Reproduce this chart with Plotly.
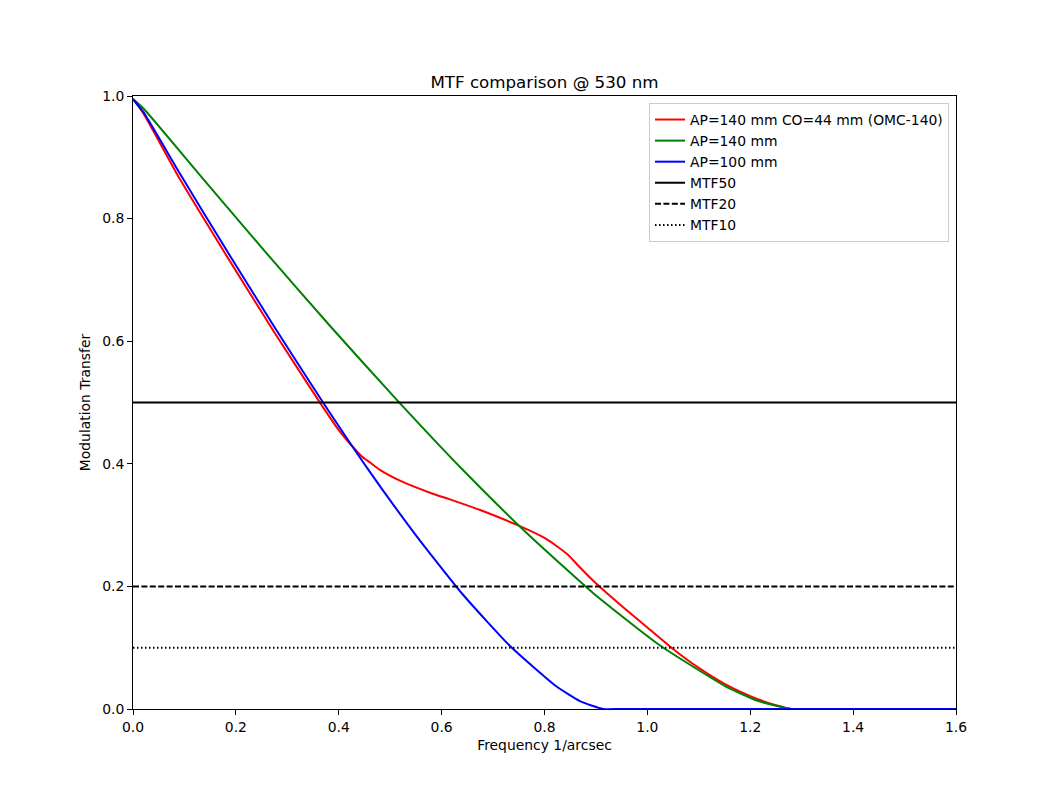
import plotly.graph_objects as go

# Frequency (1/arcsec) and modulation transfer values
red_x = [0.0, 0.02, 0.0914, 0.1829, 0.2743, 0.3657, 0.40, 0.428, 0.445, 0.461, 0.48, 0.52, 0.58,
         0.616, 0.68, 0.75, 0.8, 0.82, 0.845, 0.87, 0.9, 0.95, 1.0, 1.05, 1.1, 1.15, 1.2, 1.25,
         1.28, 1.32, 1.6]
red_y = [0.995, 0.972, 0.864, 0.738, 0.615, 0.497, 0.455, 0.427, 0.412, 0.402, 0.390, 0.372, 0.352,
         0.342, 0.323, 0.299, 0.279, 0.268, 0.252, 0.23, 0.205, 0.168, 0.133, 0.098, 0.067, 0.041,
         0.021, 0.006, 0.0, 0.0, 0.0]

green_x = [0.0, 0.02, 0.128, 0.256, 0.384, 0.512, 0.64, 0.768, 0.896, 1.024, 1.152, 1.216, 1.28, 1.32, 1.6]
green_y = [0.995, 0.980, 0.873, 0.747, 0.624, 0.505, 0.391, 0.285, 0.188, 0.104, 0.037, 0.013, 0.0, 0.0, 0.0]

blue_x = [0.0, 0.02, 0.0914, 0.1829, 0.2743, 0.3657, 0.4571, 0.5486, 0.64, 0.7314, 0.8229, 0.8686,
          0.914, 0.95, 1.6]
blue_y = [0.995, 0.974, 0.873, 0.747, 0.624, 0.505, 0.391, 0.285, 0.188, 0.104, 0.037, 0.013,
          0.0, 0.0, 0.0]

x_range = [0.0, 1.6]
mtf_levels = [0.5, 0.2, 0.1]
mtf_names = ["MTF50", "MTF20", "MTF10"]
mtf_dash = ["solid", "6px,2.4px", "1.5px,2.5px"]

series = [
    ("AP=140 mm CO=44 mm (OMC-140)", red_x, red_y, "#ff0000"),
    ("AP=140 mm", green_x, green_y, "#008000"),
    ("AP=100 mm", blue_x, blue_y, "#0000ff"),
]

fig = go.Figure()
for name, xs, ys, col in series:
    fig.add_trace(go.Scatter(x=xs, y=ys, mode="lines", name=name,
                             line=dict(color=col, width=2, shape="spline", smoothing=0.5)))
for lvl, nm, dsh in zip(mtf_levels, mtf_names, mtf_dash):
    fig.add_trace(go.Scatter(x=x_range, y=[lvl, lvl], mode="lines", name=nm,
                             line=dict(color="black", width=2, dash=dsh)))

font = "DejaVu Sans, Liberation Sans, sans-serif"
fs = 13.9
axis_common = dict(showline=True, linecolor="black", linewidth=1, mirror=True,
                   ticks="outside", ticklen=5, tickwidth=1, tickcolor="black",
                   showgrid=False, zeroline=False, tickformat=".1f",
                   tickfont=dict(size=fs, color="black", family=font))

fig.update_layout(
    width=1062, height=797,
    margin=dict(l=133, r=106, t=96, b=88),
    plot_bgcolor="white", paper_bgcolor="white",
    title=dict(text="MTF comparison @ 530 nm", x=0.5, xref="paper", xanchor="center",
               y=1 - 82 / 797, yanchor="middle",
               font=dict(size=16.7, color="black", family=font)),
    xaxis=dict(range=x_range, dtick=0.2, tick0=0,
               title=dict(text="Frequency 1/arcsec", font=dict(size=fs, color="black", family=font), standoff=6),
               **axis_common),
    yaxis=dict(range=[0, 1], dtick=0.2, tick0=0,
               title=dict(text="Modulation Transfer", font=dict(size=fs, color="black", family=font), standoff=8),
               **axis_common),
    legend=dict(x=1 - 7 / 823, xanchor="right", y=1 - 7 / 613, yanchor="top",
                bgcolor="rgba(255,255,255,0.8)", bordercolor="#cccccc", borderwidth=1,
                font=dict(size=fs, color="black", family=font), tracegroupgap=0,
                itemwidth=30),
    showlegend=True,
)

fig.write_html("out.html")
